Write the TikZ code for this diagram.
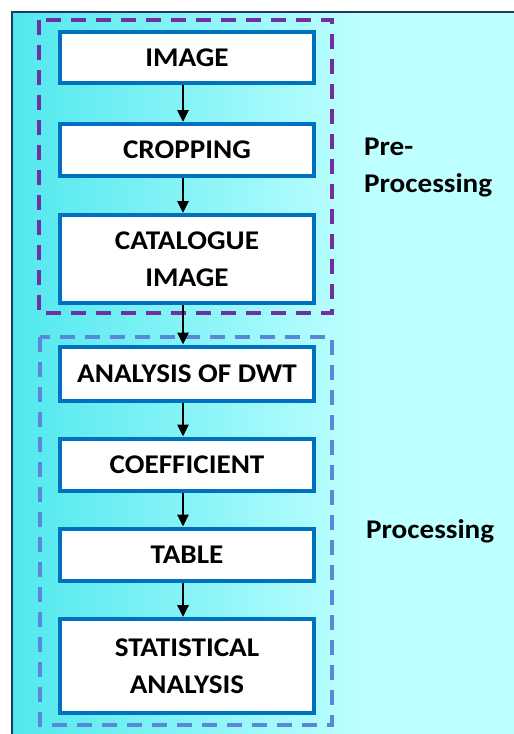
\documentclass[tikz,border=0pt]{standalone}
\usepackage{fontspec}
\setmainfont{Carlito}[FakeStretch=1.08]
\usetikzlibrary{arrows.meta}
\definecolor{boxblue}{RGB}{0,112,192}
\definecolor{dpurple}{RGB}{112,48,160}
\definecolor{dblue}{RGB}{90,135,215}
\definecolor{navy}{RGB}{31,56,100}
\definecolor{cyanL}{RGB}{80,232,238}
\definecolor{cyanR}{RGB}{190,255,255}
\tikzset{
  stepbox/.style={draw=boxblue, line width=4pt, fill=white, minimum width=254pt,
    align=center, font=\fontsize{27}{37}\selectfont\bfseries, inner sep=0pt},
  arr/.style={-{Triangle[length=12pt,width=11pt]}, line width=2.8pt, black},
  dashbox/.style={line width=3.5pt, dash pattern=on 15pt off 10pt},
  lbl/.style={font=\fontsize{27}{37}\selectfont\bfseries, align=left, inner sep=0pt}
}
\begin{document}
\begin{tikzpicture}[x=1pt,y=-1pt]
\useasboundingbox (0,0) rectangle (514,734);
\fill[white] (0,0) rectangle (514,734);
\shade[left color=cyanL, right color=cyanR, shading angle=90] (12,12) rectangle (360,734);
\fill[cyanR] (359.5,12) rectangle (514,734);
\draw[navy, line width=2.5pt] (12,734) -- (12,12) -- (514,12);
% dashed groups
\draw[dashbox, dpurple] (39,20) rectangle (332,313);
\draw[dashbox, dblue] (40,337) rectangle (332,725);
% boxes
\node[stepbox, minimum height=51pt] (img) at (187,57.5) {IMAGE};
\node[stepbox, minimum height=52pt] (crop) at (187,150) {CROPPING};
\node[stepbox, minimum height=88pt] (cat) at (187,259) {CATALOGUE\\IMAGE};
\node[stepbox, minimum height=54pt] (dwt) at (187,373.5) {ANALYSIS OF DWT};
\node[stepbox, minimum height=52pt] (coef) at (187,464.5) {COEFFICIENT};
\node[stepbox, minimum height=52pt] (tab) at (187,554.5) {TABLE};
\node[stepbox, minimum height=94pt] (stat) at (187,666) {STATISTICAL\\ANALYSIS};
% arrows
\foreach \a/\b in {img/crop, crop/cat, cat/dwt, dwt/coef, coef/tab, tab/stat}
  \draw[arr] ([xshift=-4pt]\a.south) -- ([xshift=-4pt]\b.north);
% labels
\node[lbl, anchor=base west] (pre) at (364,192) {Pre-\\Processing};
\node[lbl, anchor=base west] (proc) at (366,538) {Processing};
\end{tikzpicture}
\end{document}
